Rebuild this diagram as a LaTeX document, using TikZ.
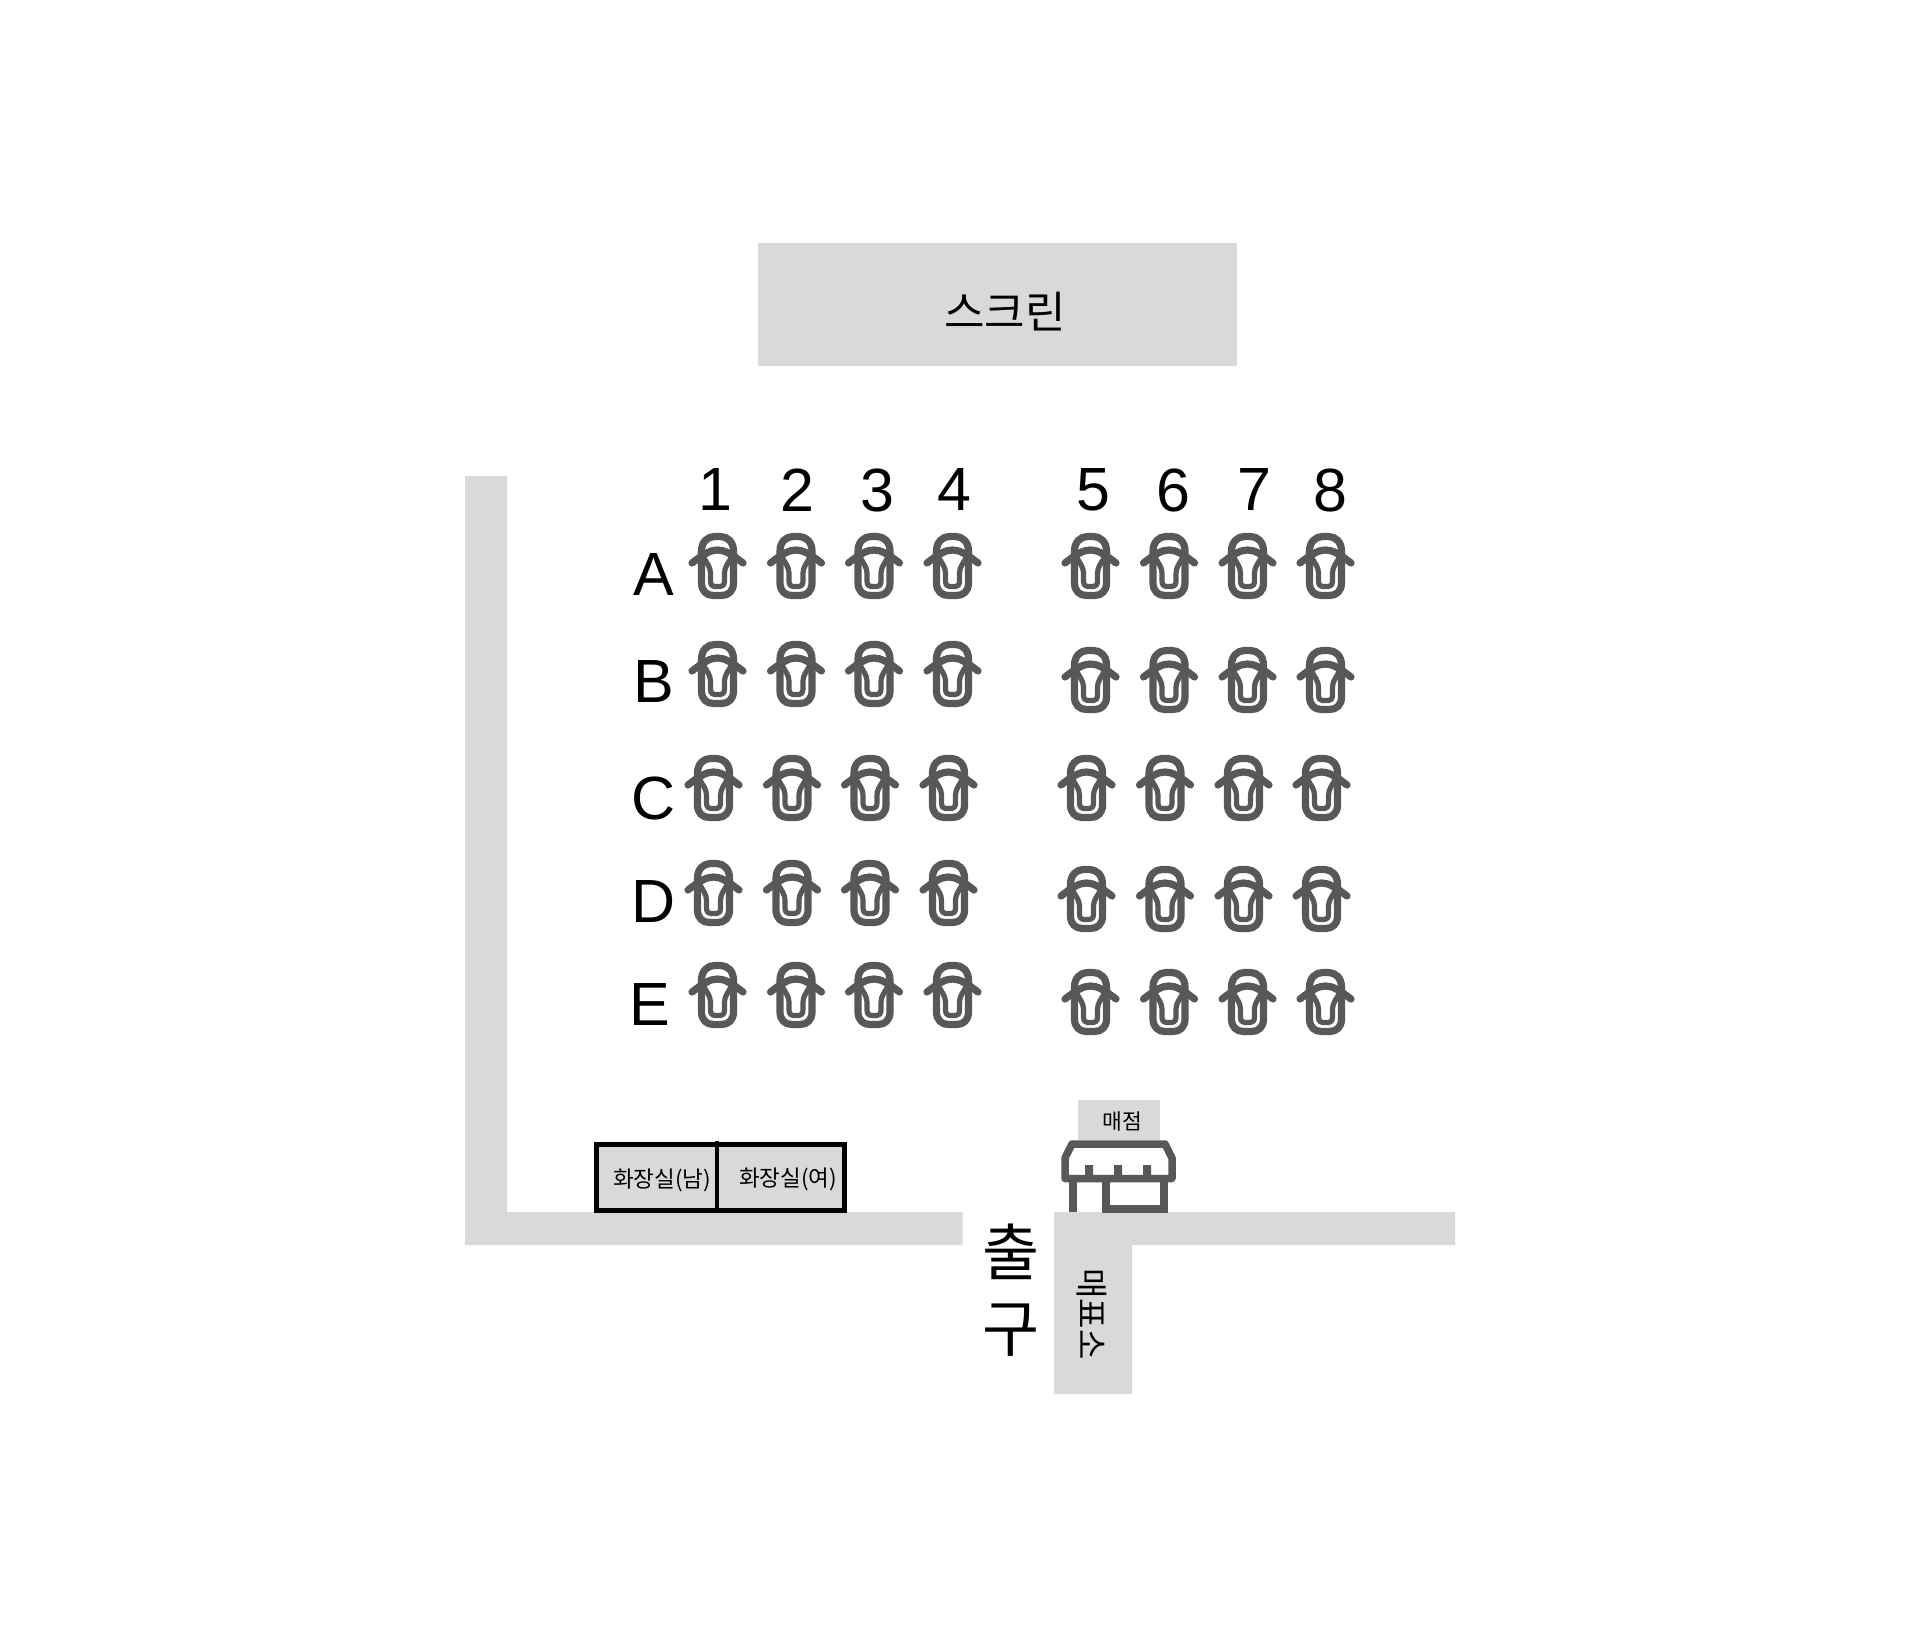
\documentclass[tikz,border=0pt]{standalone}
\usepackage{fontspec}
\setmainfont{Liberation Sans}
\newfontfamily\krfont{Noto Sans CJK KR}
\definecolor{panel}{HTML}{D9D9D9}
\definecolor{icon}{HTML}{585858}
\tikzset{
  panelbox/.style={fill=panel,draw=none},
  seatline/.style={draw=icon,line width=7.2pt,line cap=round,line join=round},
  latinlabel/.style={inner sep=0pt,font=\fontsize{61}{61}\selectfont},
  krlabel/.style={inner sep=0pt,text=black},
  seatpic/.pic={
    \draw[seatline] (-16,18) .. controls (-16,9) and (-10,3.5) .. (-3,3.5) -- (3,3.5)
       .. controls (10,3.5) and (16,9) .. (16,18) -- (16,50)
       .. controls (16,58) and (11,62.5) .. (4,62.5) -- (-4,62.5)
       .. controls (-11,62.5) and (-16,58) .. (-16,50) -- cycle;
    \draw[seatline] (-25.5,30) .. controls (-14,21) and (-7,17) .. (0,17)
       .. controls (7,17) and (14,21) .. (25.5,30);
    \draw[seatline,line width=5.2pt] (-14,24) .. controls (-11,30) and (-7,34) .. (-7,40) -- (-7,48)
       .. controls (-7,52) and (-5,53.5) .. (-3,53.5) -- (3,53.5)
       .. controls (5,53.5) and (7,52) .. (7,48) -- (7,40)
       .. controls (7,34) and (11,30) .. (14,24);
  }
}
\begin{document}
\begin{tikzpicture}[x=1pt,y=-1pt]
\useasboundingbox (0,0) rectangle (1920,1637);
\fill[white] (0,0) rectangle (1920,1637);

\path[panelbox] (758,243) rectangle (1237,366);
\node[krlabel,font=\krfont\fontsize{44}{44}\selectfont] (screen) at (1005,312) {스크린};

\path[panelbox] (465,476) -- (507,476) -- (507,1212) -- (962.5,1212) -- (962.5,1245) -- (465,1245) -- cycle;
\path[panelbox] (1054,1212) -- (1455,1212) -- (1455,1245) -- (1132,1245) -- (1132,1394) -- (1054,1394) -- cycle;
\path[panelbox] (1078,1100) rectangle (1160,1140);

% column numbers
\foreach \n/\x in {1/715,2/797,3/877,4/954,5/1093,6/1173,7/1254,8/1330}
  \node[latinlabel] (col\n) at (\x,490) {\n};
% row letters
\foreach \n/\x/\y in {A/654/575,B/654/682,C/654/798,D/654/902,E/650/1005}
  \node[latinlabel] (row\n) at (\x,\y) {\n};

% seats
\foreach \r/\dx/\yl/\yr/\dxr in {a/0/533/533/-0.5,b/0/641/647/-0.5,c/-4/755/755/-4.5,d/-4/860/866/-4.5,e/0/962/969/-0.5}{
  \foreach \c/\x in {1/717.5,2/796,3/874,4/952.5,5/1091,6/1169.5,7/1248,8/1326}{
    \ifnum\c<5
      \pic (seat\r\c) at ({\x+\dx},\yl) {seatpic};
    \else
      \pic (seat\r\c) at ({\x+\dxr},\yr) {seatpic};
    \fi
  }
}

% restrooms
\node[draw=black,fill=panel,line width=5pt,minimum width=248pt,minimum height=66pt,inner sep=0pt,anchor=north west] (wc) at (594,1142) {};
\draw[black,line width=4.5pt] (717,1140.5) -- (717,1213);
\node[krlabel,font=\krfont\fontsize{22.5}{23}\selectfont] (wcm) at (662,1180) {화장실(남)};
\node[krlabel,font=\krfont\fontsize{22.5}{23}\selectfont] (wcw) at (788,1179) {화장실(여)};

% kiosk icon
\draw[icon,line width=7.5pt,line join=round,line cap=butt]
  (1072,1144) -- (1065,1158) -- (1065,1178.5) -- (1172,1178.5) -- (1172,1158) -- (1165,1144) -- cycle;
\fill[icon] (1071,1141) rectangle (1166,1147);
\draw[icon,line width=8pt] (1073,1179) -- (1073,1212);
\draw[icon,line width=8pt] (1106,1179) -- (1106,1209) -- (1164,1209) -- (1164,1179);
\fill[icon] (1085,1165) rectangle (1093,1179) (1114,1165) rectangle (1122,1179) (1143,1165) rectangle (1151,1179);
\node[krlabel,font=\krfont\fontsize{21.5}{22}\selectfont] (shop) at (1122,1121) {매점};

% exit + ticket
\node[krlabel,font=\krfont\fontsize{62}{62}\selectfont] (exit1) at (1011,1252) {출};
\node[krlabel,font=\krfont\fontsize{62}{62}\selectfont] (exit2) at (1011,1330) {구};
\node[krlabel,rotate=-90,font=\krfont\fontsize{33}{33}\selectfont] (ticket) at (1092,1314) {매표소};
\end{tikzpicture}
\end{document}
